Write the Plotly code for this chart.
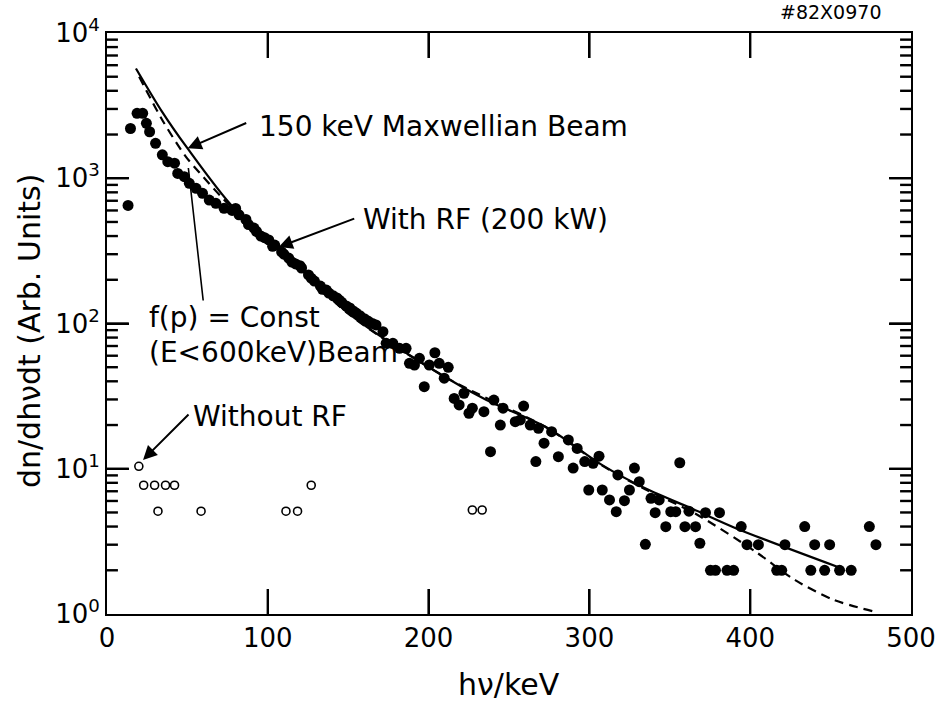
import math
import plotly.graph_objects as go

# ---------------- data ----------------
# With RF (200 kW): filled circles, photon energy (keV) and dn/dhv dt
with_rf_x = [13.1, 14.6, 18.7, 22.2, 24.5, 26.5, 30.2, 34.4, 37.8, 42.0, 44.0, 48.1, 51.2, 55.4,
             59.4, 63.6, 67.7, 72.8, 77.8, 80.0, 82.1, 86.4, 88.0, 91.4, 93.0, 95.7, 98.0, 100.6,
             103.0, 104.3, 108.6, 110.0, 113.0, 115.0, 117.3, 120.0, 121.0, 125.3, 127.0, 129.0,
             132.7, 134.0, 136.4, 138.0, 140.7, 143.0, 144.4, 146.0, 148.8, 151.0, 153.1, 155.0,
             157.4, 160.0, 162.3, 165.0, 167.3, 171.6, 173.6, 177.8, 181.9, 186.0, 188.1, 191.2,
             194.3, 200.4, 203.9, 206.6, 212.2, 209.7, 197.3, 215.9, 219.0, 222.0, 227.2, 225.1,
             234.4, 240.6, 246.3, 259.1, 244.6, 253.9, 257.0, 263.2, 268.3, 238.5, 276.5, 271.8,
             286.9, 280.7, 292.4, 289.9, 297.1, 302.3, 306.0, 299.6, 266.7, 308.0, 312.5, 316.7,
             317.7, 321.8, 324.9, 328.0, 331.0, 334.8, 338.3, 340.9, 343.4, 347.5, 350.6, 353.7,
             356.2, 359.4, 361.9, 366.0, 368.7, 372.2, 380.9, 375.3, 378.4, 385.6, 389.7, 394.4,
             398.0, 405.1, 416.5, 419.6, 421.6, 433.9, 437.7, 440.1, 446.3, 449.4, 455.6, 462.8,
             474.1, 478.2]
with_rf_y = [650, 2200, 2800, 2800, 2390, 2090, 1740, 1450, 1300, 1270, 1080, 1025, 923, 853,
             788, 708, 672, 621, 600, 620, 560, 520, 480, 454, 430, 400, 390, 376,
             340, 347, 311, 300, 282, 265, 257, 250, 241, 216, 205, 196,
             181, 172, 170, 162, 155, 150, 145, 140, 132, 128, 122, 118,
             113, 108, 104, 100, 97.7, 87.8, 73.1, 73.1, 67.5, 67.5, 53.2, 51.8,
             57.6, 51.8, 62.9, 53.2, 49.9, 42.0, 36.7, 30.5, 27.5, 33.1, 26.1, 24.1,
             24.7, 29.7, 26.1, 27.0, 20.0, 21.1, 21.7, 20.0, 19.0, 13.1, 18.0, 15.0,
             15.8, 12.1, 13.8, 10.1, 11.2, 10.9, 12.2, 7.14, 11.2, 7.14, 6.1, 5.06,
             9.06, 6.03, 7.14, 10.1, 8.15, 3.02, 6.26, 4.98, 6.1, 3.99, 5.06, 5.06,
             11.0, 3.99, 5.1, 3.99, 3.07, 4.98, 4.98, 2.0, 2.0, 2.0, 2.0, 4.0,
             3.0, 3.0, 2.0, 2.0, 3.0, 4.0, 2.0, 3.0, 2.0, 3.0, 2.0, 2.0,
             4.0, 3.0]

# Without RF: open circles
without_rf_x = [19.8, 22.8, 29.6, 36.4, 42.0, 31.7, 58.5, 111.3, 118.5, 127.0, 227.2, 233.3]
without_rf_y = [10.4, 7.7, 7.7, 7.7, 7.7, 5.1, 5.1, 5.1, 5.1, 7.7, 5.2, 5.2]

# 150 keV Maxwellian beam (solid curve)
maxw_x = [18, 34, 50, 78, 107, 150, 210, 236, 274, 308, 335, 364, 391, 455]
maxw_y = [5700, 2900, 1610, 640, 336, 118, 43, 29.7, 19.1, 10.6, 7.3, 5.3, 3.9, 2.1]

# f(p) = Const (E < 600 keV) beam (dashed curve)
const_x = [20, 35, 49, 57, 78, 107, 150, 210, 274, 308, 335, 366, 403, 428, 452, 477]
const_y = [5000, 2450, 1410, 1110, 620, 330, 117, 43, 19, 10.5, 7.2, 4.9, 2.7, 1.71, 1.25, 1.04]

x_ticks = [0, 100, 200, 300, 400, 500]
y_ticks = [1, 10, 100, 1000, 10000]
y_tick_text = ["10<sup>0</sup>", "10<sup>1</sup>", "10<sup>2</sup>", "10<sup>3</sup>", "10<sup>4</sup>"]
y_minor_ticks = [m * d for d in (1, 10, 100, 1000) for m in range(2, 10)]

FONT = "DejaVu Sans, sans-serif"
X_RANGE = (0, 500)
Y_RANGE_LOG = (0, 4)

fig = go.Figure()
fig.add_trace(go.Scatter(x=maxw_x, y=maxw_y, mode="lines",
                         line=dict(color="black", width=2.2, shape="spline", smoothing=0.8)))
fig.add_trace(go.Scatter(x=const_x, y=const_y, mode="lines",
                         line=dict(color="black", width=2.2, dash="9px,6px", shape="spline", smoothing=0.8)))
fig.add_trace(go.Scatter(x=with_rf_x, y=with_rf_y, mode="markers",
                         marker=dict(size=11, color="black", line=dict(width=0))))
fig.add_trace(go.Scatter(x=without_rf_x, y=without_rf_y, mode="markers",
                         marker=dict(symbol="circle-open", size=8, color="black",
                                     line=dict(width=1.6, color="black"))))

# ---- inward tick marks (line trace at the axis tick values, minor ticks included) ----
PLOT_W, PLOT_H = 810, 581           # plot-area size in px (from the margins below)
kev_per_px = (X_RANGE[1] - X_RANGE[0]) / PLOT_W
dec_per_px = (Y_RANGE_LOG[1] - Y_RANGE_LOG[0]) / PLOT_H
XT_LEN, YT_LEN, YM_LEN = 25, 22, 11  # tick lengths in px
tx, ty = [], []
for v in x_ticks[1:-1]:
    tx += [v, v, None, v, v, None]
    ty += [10 ** Y_RANGE_LOG[0], 10 ** (Y_RANGE_LOG[0] + XT_LEN * dec_per_px), None,
           10 ** Y_RANGE_LOG[1], 10 ** (Y_RANGE_LOG[1] - XT_LEN * dec_per_px), None]
for vals, ln in ((y_ticks[1:-1], YT_LEN), (y_minor_ticks, YM_LEN)):
    for v in vals:
        tx += [X_RANGE[0], X_RANGE[0] + ln * kev_per_px, None,
               X_RANGE[1], X_RANGE[1] - ln * kev_per_px, None]
        ty += [v, v, None, v, v, None]
fig.add_trace(go.Scatter(x=tx, y=ty, mode="lines", line=dict(color="black", width=2.4),
                         hoverinfo="skip", connectgaps=False, cliponaxis=False))

fig.update_layout(
    width=948, height=703,
    margin=dict(l=107, r=31, t=33, b=89),
    plot_bgcolor="white", paper_bgcolor="white",
    showlegend=False,
    font=dict(family=FONT, color="black"),
    xaxis=dict(range=list(X_RANGE), tickmode="array", tickvals=x_ticks,
               ticks="inside", ticklen=XT_LEN, tickwidth=2.4, tickcolor="black",
               showline=True, linewidth=2, linecolor="black", mirror="ticks",
               showgrid=False, zeroline=False, tickfont=dict(size=26)),
    yaxis=dict(type="log", range=list(Y_RANGE_LOG), tickmode="array", tickvals=y_ticks, ticktext=y_tick_text,
               ticks="inside", ticklen=YT_LEN, tickwidth=2.4, tickcolor="black",
               showline=True, linewidth=2, linecolor="black", mirror="ticks",
               showgrid=False, zeroline=False, tickfont=dict(size=26)),
)

def L(v):
    return math.log10(v)

ann = []
# axis titles
ann.append(dict(text="hν/keV", xref="paper", yref="paper", x=0.5, y=-0.121,
                showarrow=False, font=dict(size=30), xanchor="center", yanchor="middle"))
ann.append(dict(text="dn/dhνdt (Arb. Units)", xref="paper", yref="paper", x=-0.097, y=0.487,
                textangle=-90, showarrow=False, font=dict(size=30), xanchor="center", yanchor="middle"))
ann.append(dict(text="#82X0970", xref="paper", yref="paper", x=0.965, y=1.036,
                showarrow=False, font=dict(size=19), xanchor="right", yanchor="middle"))
# labels
ann.append(dict(text="150 keV Maxwellian Beam", x=93.2, y=3.353, xref="x", yref="y",
                showarrow=False, font=dict(size=28), xanchor="left", yanchor="middle"))
ann.append(dict(text="With RF (200 kW)", x=158, y=2.713, xref="x", yref="y",
                showarrow=False, font=dict(size=28), xanchor="left", yanchor="middle"))
ann.append(dict(text="f(p) = Const", x=24.7, y=2.038, xref="x", yref="y",
                showarrow=False, font=dict(size=28), xanchor="left", yanchor="middle"))
ann.append(dict(text="(E<600keV)Beam", x=24.7, y=1.797, xref="x", yref="y",
                showarrow=False, font=dict(size=28), xanchor="left", yanchor="middle"))
ann.append(dict(text="Without RF", x=52.5, y=1.363, xref="x", yref="y",
                showarrow=False, font=dict(size=28), xanchor="left", yanchor="middle"))
# arrows
ann.append(dict(text="", x=50.2, y=L(1607), xref="x", yref="y", showarrow=True,
                ax=60, ay=-26, arrowhead=2, arrowsize=1.4, arrowwidth=2, arrowcolor="black"))
ann.append(dict(text="", x=106.8, y=L(336), xref="x", yref="y", showarrow=True,
                ax=77, ay=-29, arrowhead=2, arrowsize=1.4, arrowwidth=2, arrowcolor="black"))
ann.append(dict(text="", x=22.4, y=L(11.5), xref="x", yref="y", showarrow=True,
                ax=47, ay=-47, arrowhead=2, arrowsize=1.4, arrowwidth=2, arrowcolor="black"))
ann.append(dict(text="", x=50.6, y=L(1177), xref="x", yref="y", showarrow=True,
                ax=15, ay=134, arrowhead=0, arrowwidth=1.6, arrowcolor="black"))
fig.update_layout(annotations=ann)

fig.write_html("out.html")
